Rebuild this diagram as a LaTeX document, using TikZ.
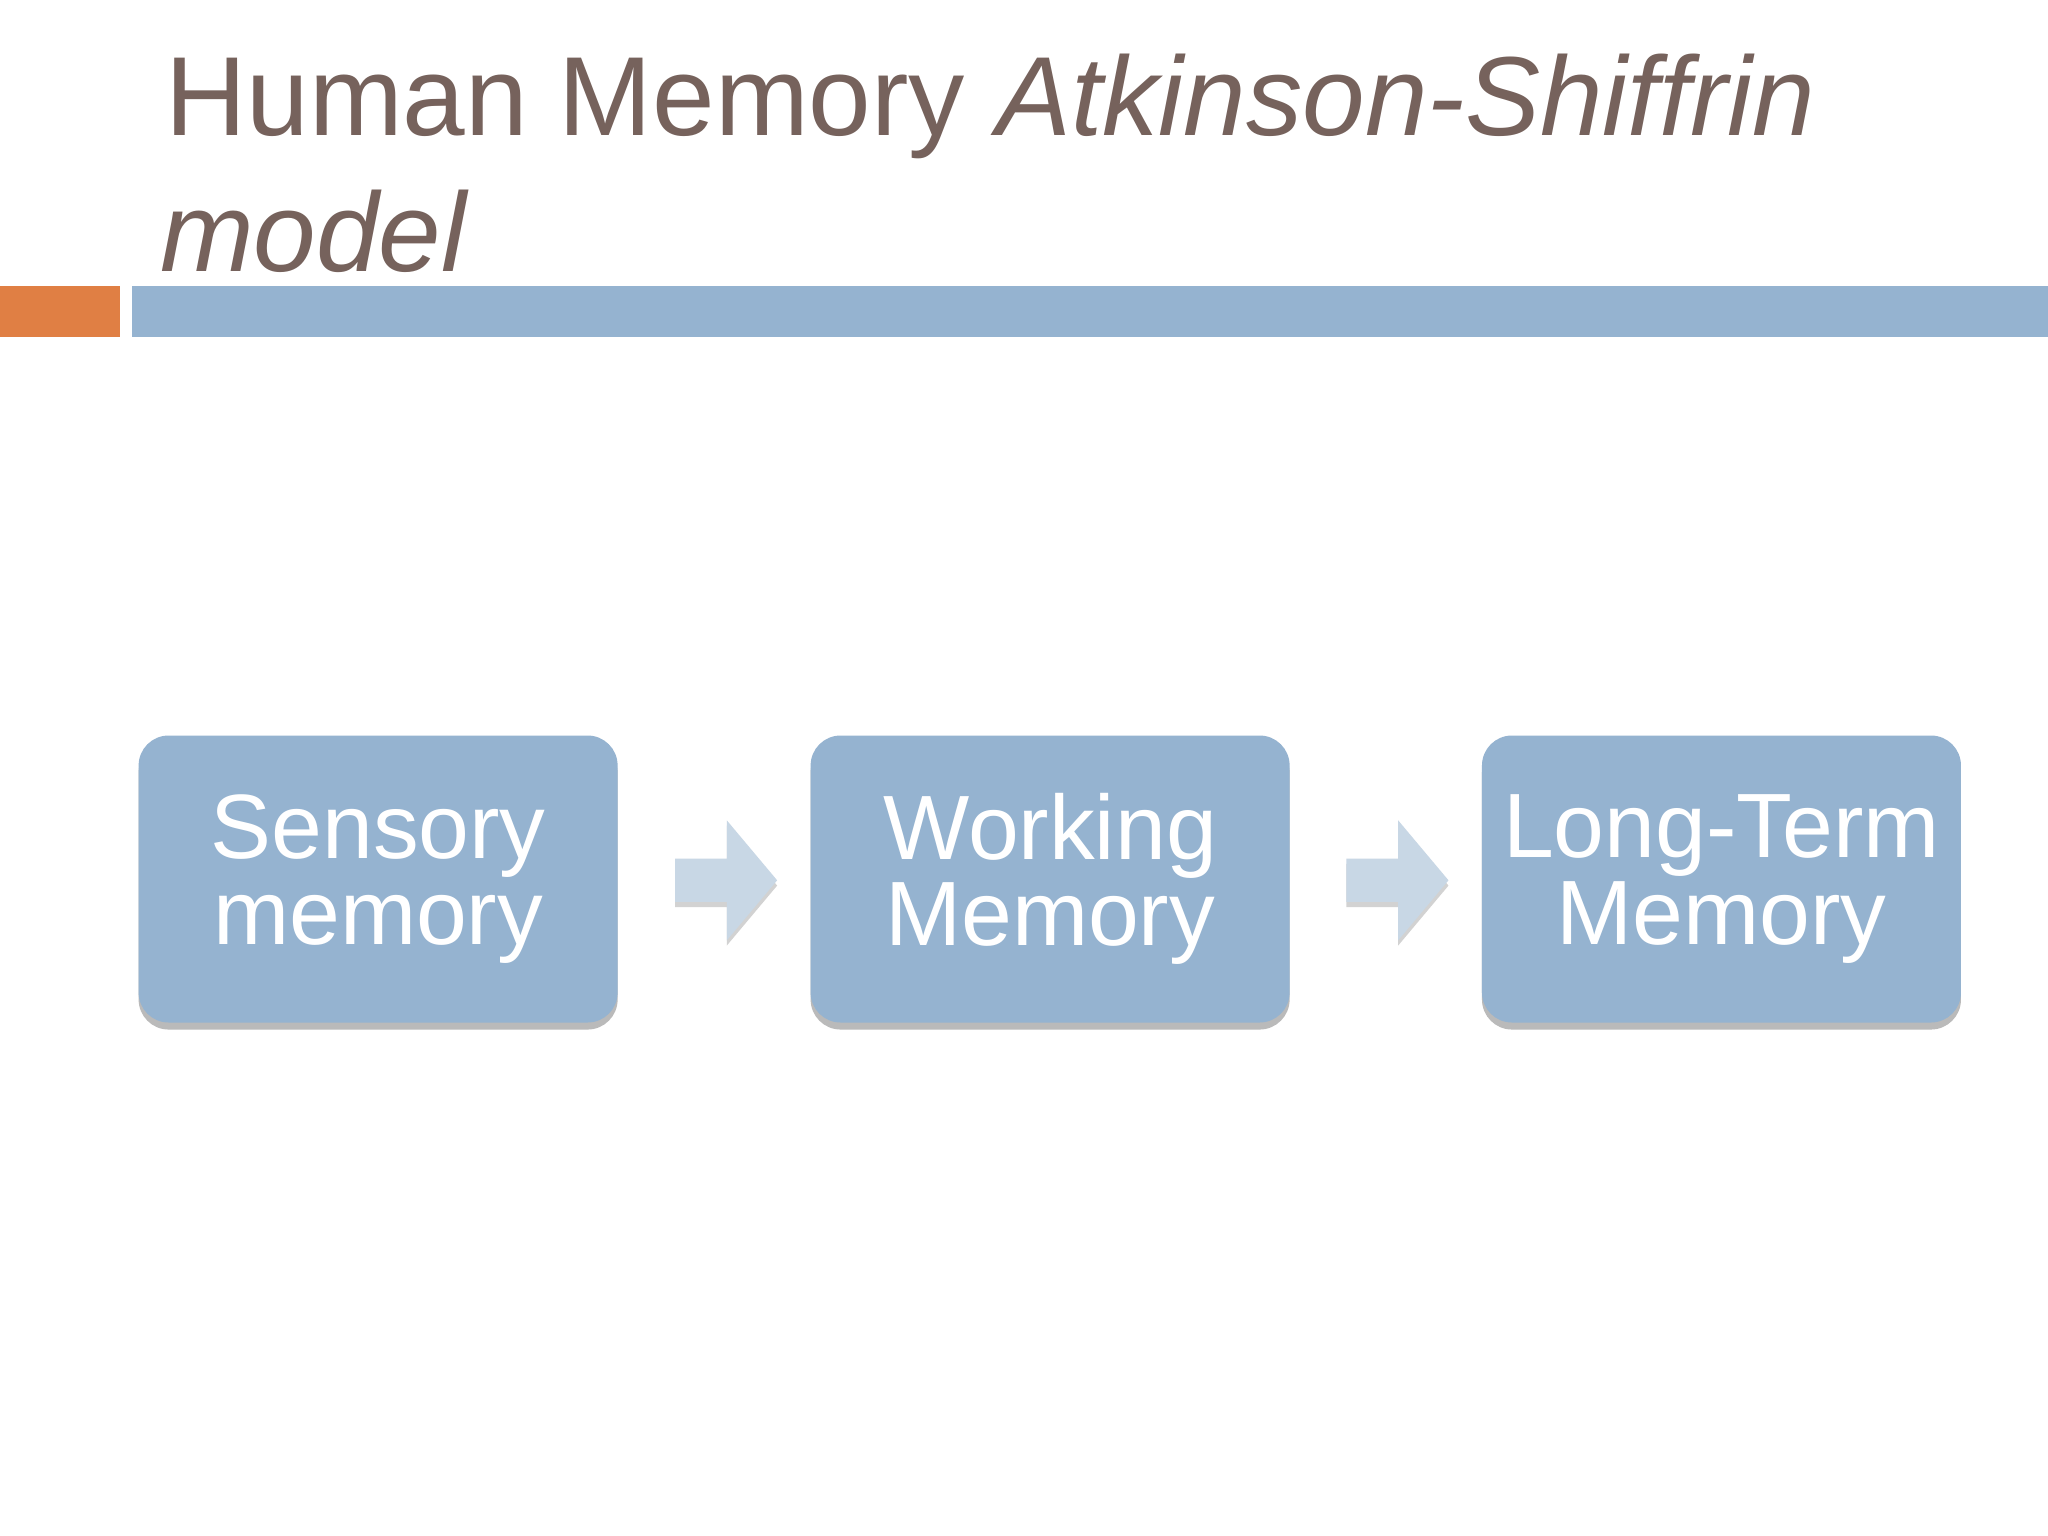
\documentclass[tikz,border=0pt]{standalone}
\usepackage{fontspec}
\setmainfont{Liberation Sans}
\usetikzlibrary{shapes.arrows,shadows}
\definecolor{titlebrown}{HTML}{76625C}
\definecolor{barblue}{HTML}{95B3D0}
\definecolor{barorange}{HTML}{E07F44}
\definecolor{arrowblue}{HTML}{C8D7E5}
\tikzset{
  stage/.style={draw=none,fill=barblue,rounded corners=0.3cm,minimum width=4.79cm,minimum height=2.87cm,
    text=white,align=center,font=\fontsize{26}{24.5}\selectfont,
    drop shadow={shadow xshift=0pt,shadow yshift=-2pt,fill=black!45,opacity=0.6}},
  flow/.style={single arrow,draw=none,fill=arrowblue,minimum width=1.2cm,minimum height=1.02cm,
    single arrow head extend=0.22cm,single arrow tip angle=100,
    drop shadow={shadow xshift=0pt,shadow yshift=-1.5pt,fill=black!35,opacity=0.5}}
}
\begin{document}
\begin{tikzpicture}[x=0.013061cm,y=-0.013061cm]
		%Fondo
		\useasboundingbox (0,0) rectangle (1568,1176);
		\fill[white] (0,0) rectangle (1568,1176);

		%Titulo
		\node [anchor=base west,inner sep=0pt,text=titlebrown,font=\fontsize{32}{38}\selectfont] (titulo1) at (126,104) {Human Memory \textit{Atkinson-Shiffrin}};
		\node [anchor=base west,inner sep=0pt,text=titlebrown,font=\fontsize{32}{38}\selectfont] (titulo2) at (122,208) {\textit{model}};

		%Barras
		\fill[barorange] (0,219) rectangle (92,258);
		\fill[barblue] (101,219) rectangle (1568,258);

		%Cajas
		\node [stage] (sensorial) at (289.5,673) {Sensory\\memory};
		\node [stage] (trabajo) at (804,673) {Working\\Memory};
		\node [stage] (largo) at (1318,673) {Long-Term\\Memory};

		%Flechas
		\node [flow] (flecha1) at (549,674) {};
		\node [flow] (flecha2) at (1063,674) {};
\end{tikzpicture}
\end{document}
